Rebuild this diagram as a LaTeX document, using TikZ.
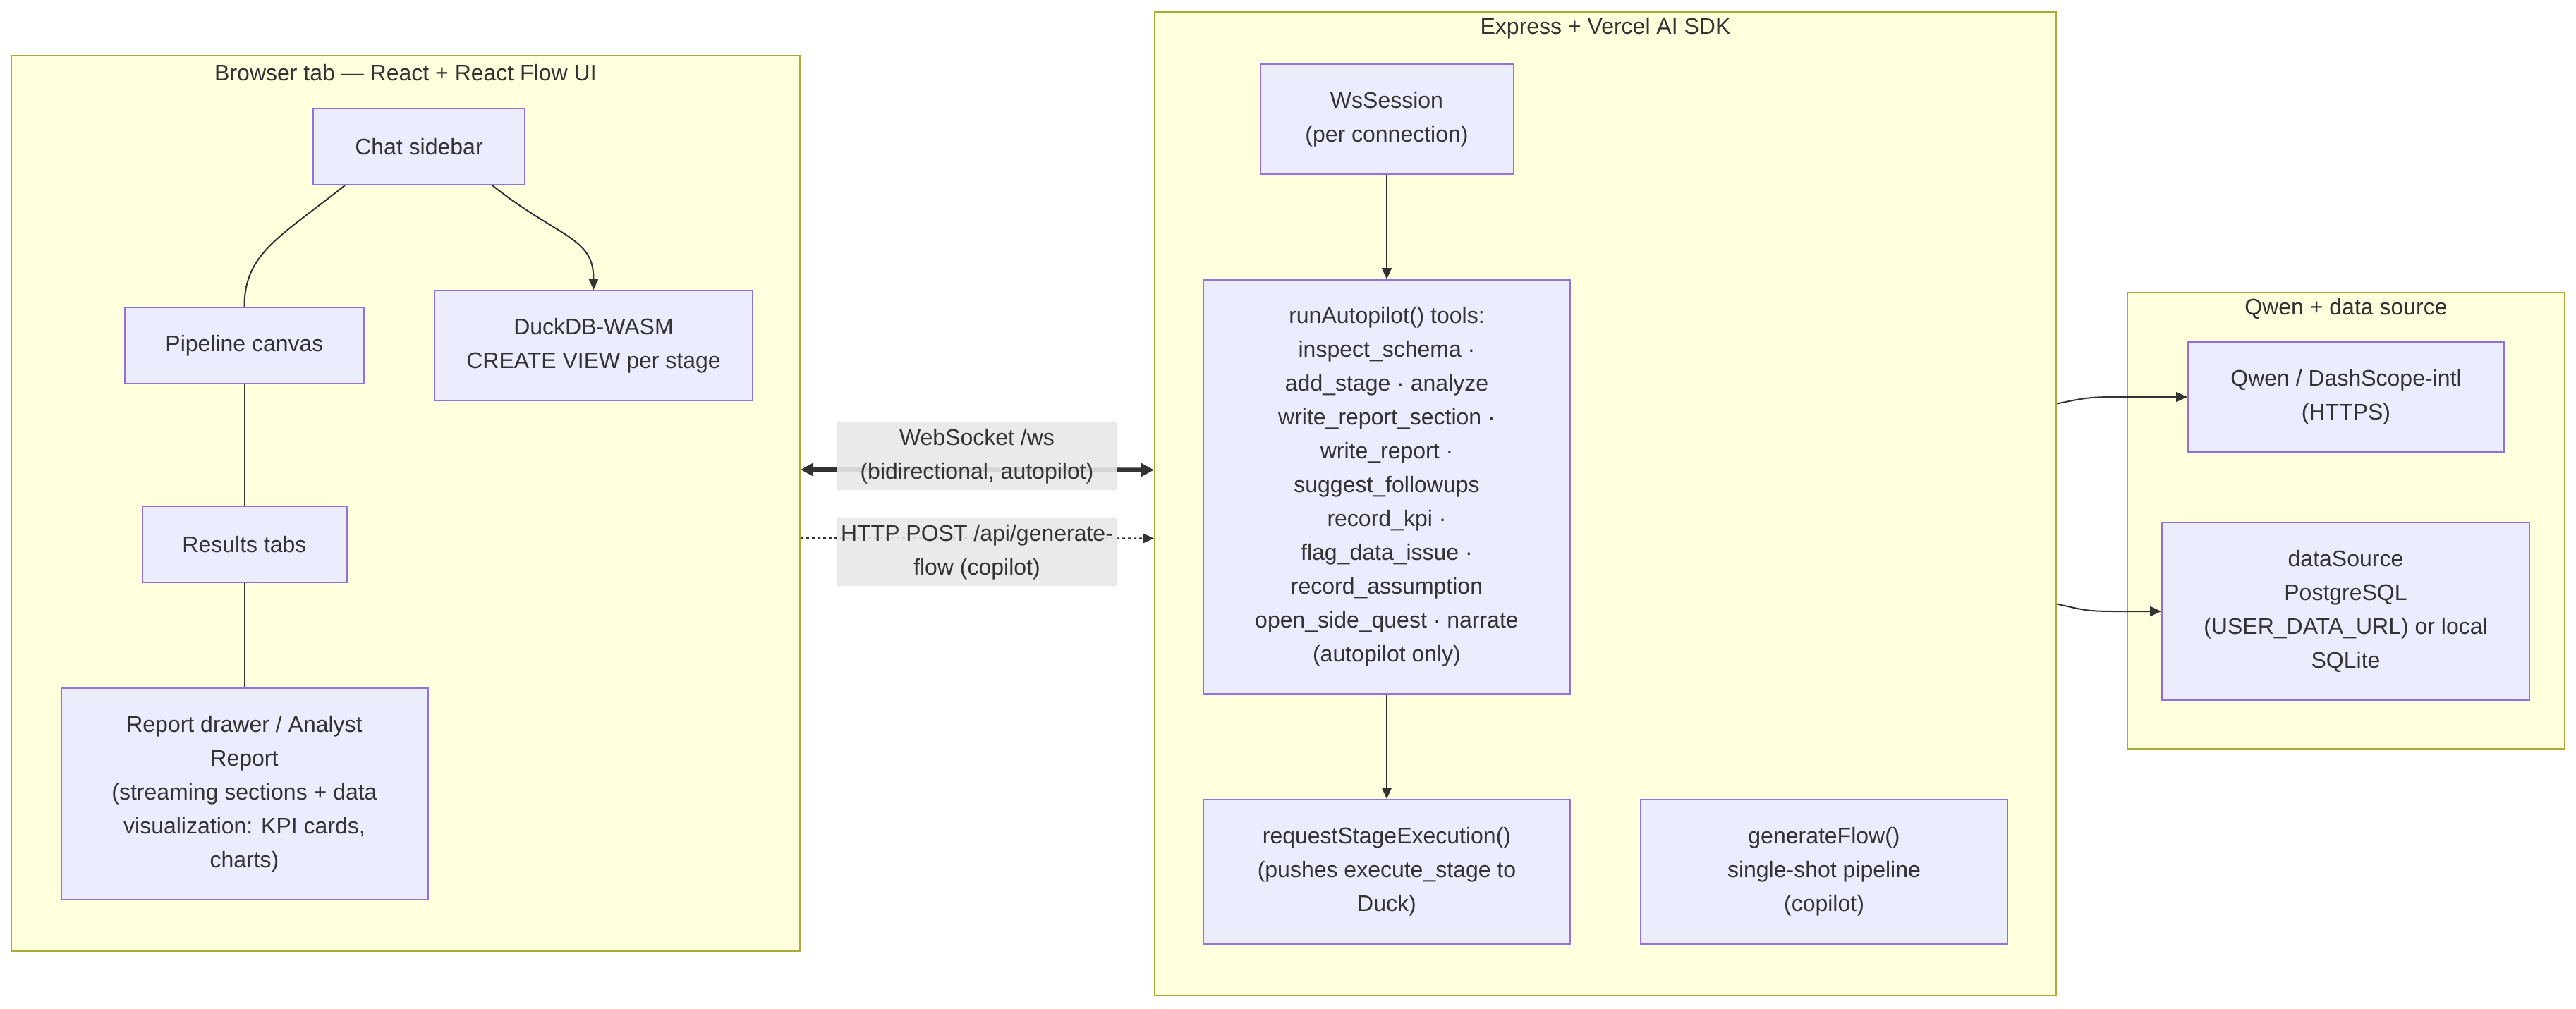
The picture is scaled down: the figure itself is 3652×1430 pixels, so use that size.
\documentclass[tikz,border=0pt]{standalone}
\usepackage{fontspec}
\setmainfont{Liberation Sans}
\usetikzlibrary{arrows.meta,calc}
\definecolor{clfill}{HTML}{FFFFDE}
\definecolor{cldraw}{HTML}{AAAA33}
\definecolor{ndfill}{HTML}{ECECFF}
\definecolor{nddraw}{HTML}{9370DB}
\definecolor{edg}{HTML}{333333}
\definecolor{lblbg}{HTML}{E8E8E8}
\begin{document}
\begin{tikzpicture}[x=0.5pt,y=-0.5pt,
  txt/.style={text=edg,font=\fontsize{16}{24}\selectfont,align=center},
  box/.style={txt,draw=nddraw,fill=ndfill,line width=1pt,inner sep=0pt},
  cluster/.style={draw=cldraw,fill=clfill,line width=1pt,inner sep=0pt},
  sz/.style 2 args={minimum width=#1*0.5pt,minimum height=#2*0.5pt},
  edge/.style={draw=edg,line width=1pt},
  arr/.style={edge,-{Triangle[length=8pt,width=7pt]}},
  lbl/.style={txt,fill=lblbg,fill opacity=0.9,text opacity=1,inner sep=0pt}
]
\useasboundingbox (0,0) rectangle (3652,1430);

% clusters
\node[cluster,sz={1118}{1270}] (browser) at (575,714) {};
\node[cluster,sz={1278}{1395}] (express) at (2276,714.5) {};
\node[cluster,sz={620}{647}] (qwencl) at (3326,738.5) {};
\node[txt] (browsert) at (575,103) {Browser tab — React + React Flow UI};
\node[txt] (expresst) at (2276,40) {Express + Vercel AI SDK};
\node[txt] (qwenclt) at (3326,438) {Qwen + data source};

% browser nodes
\node[box,sz={300}{108}] (chat) at (594,208) {Chat sidebar};
\node[box,sz={339}{108}] (pipe) at (346.5,490) {Pipeline canvas};
\node[box,sz={451}{156}] (duck) at (841.5,490) {DuckDB-WASM\\CREATE VIEW per stage};
\node[box,sz={290}{108}] (results) at (346.5,772) {Results tabs};
\node[box,sz={520}{300}] (report) at (346.5,1126) {Report drawer / Analyst\\Report\\(streaming sections + data\\visualization: KPI cards,\\charts)};

% express nodes
\node[box,sz={359}{156}] (ws) at (1966,169) {WsSession\\(per connection)};
\node[box,sz={520}{587}] (auto) at (1966,690.5) {runAutopilot() tools:\\inspect\_schema ·\\add\_stage · analyze\\write\_report\_section ·\\write\_report ·\\suggest\_followups\\record\_kpi ·\\flag\_data\_issue ·\\record\_assumption\\open\_side\_quest · narrate\\(autopilot only)};
\node[box,sz={520}{205}] (req) at (1966,1236.5) {requestStageExecution()\\(pushes execute\_stage to\\Duck)};
\node[box,sz={520}{205}] (gen) at (2586,1236.5) {generateFlow()\\single-shot pipeline\\(copilot)};

% qwen nodes
\node[box,sz={448}{156}] (qwen) at (3326,563) {Qwen / DashScope-intl\\(HTTPS)};
\node[box,sz={521}{252}] (data) at (3325.5,867) {dataSource\\PostgreSQL\\(USER\_DATA\_URL) or local\\SQLite};

% browser edges
\draw[edge] ($(chat.south)+(-105,0)$) .. controls +(-95,75) and +(0,-75) .. (pipe.north);
\draw[arr] ($(chat.south)+(104,0)$) .. controls +(95,75) and +(0,-75) .. (duck.north);
\draw[edge] (pipe.south) -- (results.north);
\draw[edge] (results.south) -- (report.north);

% express edges
\draw[arr] (ws.south) -- (auto.north);
\draw[arr] (auto.south) -- (req.north);

% express -> qwen cluster
\coordinate (e1) at ($(express.east)+(0,-142)$);
\coordinate (e2) at ($(express.east)+(0,142)$);
\draw[arr] (e1) .. controls +(40,-8) and +(-40,0) .. ($(qwen.west)+(-100,0)$) -- (qwen.west);
\draw[arr] (e2) .. controls +(40,9) and +(-40,0) .. ($(data.west)+(-65,0)$) -- (data.west);

% browser <-> express
\draw[draw=edg,line width=3pt,{Triangle[length=9pt,width=9pt]}-{Triangle[length=9pt,width=9pt]}]
  ($(browser.east)+(0,-48)$) -- ($(express.west)+(0,-48)$);
\draw[draw=edg,line width=1pt,dash pattern=on 2pt off 2pt,-{Triangle[length=8pt,width=7pt]}]
  ($(browser.east)+(0,49)$) -- ($(express.west)+(0,49)$);
\node[lbl,sz={398}{96}] (wslbl) at (1385,647) {WebSocket /ws\\(bidirectional, autopilot)};
\node[lbl,sz={398}{96}] (httplbl) at (1385,783) {HTTP POST /api/generate-\\flow (copilot)};
\end{tikzpicture}
\end{document}
